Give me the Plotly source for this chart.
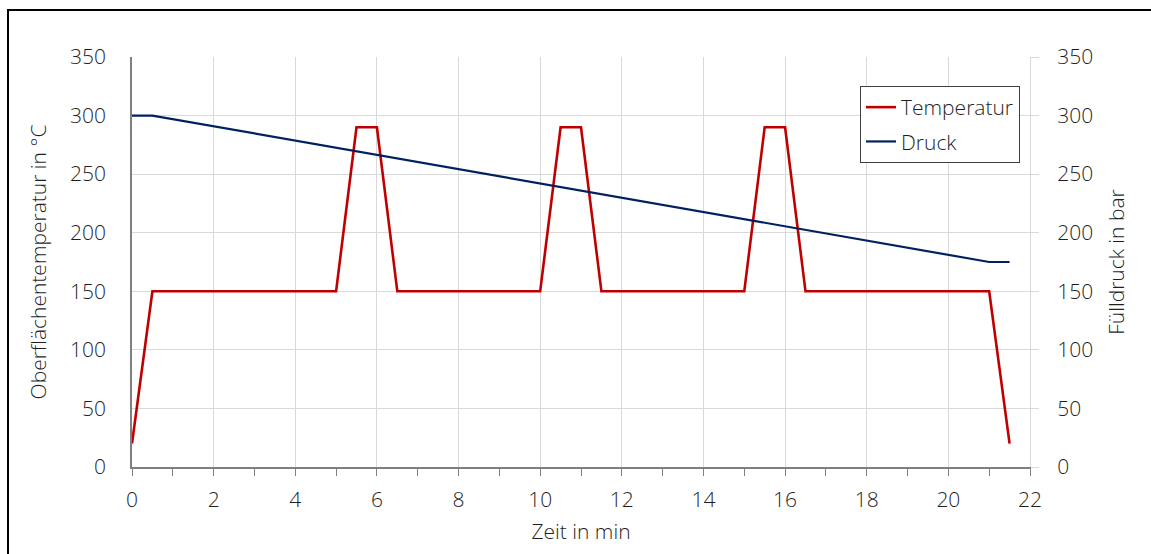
import plotly.graph_objects as go

zeit_temp = [0, 0.5, 5, 5.5, 6, 6.5, 10, 10.5, 11, 11.5, 15, 15.5, 16, 16.5, 21, 21.5]
temperatur = [20, 150, 150, 290, 290, 150, 150, 290, 290, 150, 150, 290, 290, 150, 150, 20]
zeit_druck = [0, 0.5, 21, 21.5]
druck = [300, 300, 175, 175]

x_ticks = list(range(0, 23, 2))
y_ticks = list(range(0, 351, 50))

FONT = "Open Sans"
TXT = "#1F1F1F"
FS = 21

fig = go.Figure()
fig.add_trace(go.Scatter(x=zeit_temp, y=temperatur, mode="lines", name="Temperatur",
                         legendgroup="a",
                         line=dict(color="#C00000", width=2.6)))
fig.add_trace(go.Scatter(x=zeit_druck, y=druck, mode="lines", name="Druck", yaxis="y2",
                         legendgroup="b",
                         line=dict(color="#002060", width=2.2)))

L, R, T, B = 132, 1030, 57, 467
W, H = 1151, 554
pw, ph = R - L, B - T

def px(x):
    return (x - L) / pw

def py(y):
    return (B - y) / ph

fig.update_layout(
    width=W, height=H,
    margin=dict(l=L, r=W - R, t=T, b=H - B),
    paper_bgcolor="white", plot_bgcolor="white",
    font=dict(family=FONT, size=FS, color=TXT, weight=300),
    showlegend=True,
    legend=dict(x=px(860), y=py(86), xanchor="left", yanchor="top",
                bgcolor="white", bordercolor="#404040", borderwidth=1,
                font=dict(size=FS, color=TXT, weight=300), itemwidth=30, tracegroupgap=4),
    xaxis=dict(range=[0, 22], tickvals=x_ticks, showgrid=True, gridcolor="#D9D9D9", gridwidth=1,
               showline=True, linecolor="#7F7F7F", linewidth=1.5,
               ticks="outside", ticklen=7, tickcolor="#7F7F7F",
               minor=dict(dtick=1, ticks="outside", ticklen=7, tickcolor="#7F7F7F", showgrid=False),
               zeroline=False, ticklabelstandoff=6,
               title=dict(text="Zeit in min", standoff=12, font=dict(size=FS, weight=300)),
               tickfont=dict(size=FS, weight=300)),
    yaxis=dict(range=[0, 350], tickvals=y_ticks, showgrid=True, gridcolor="#D9D9D9", gridwidth=1,
               showline=True, linecolor="#7F7F7F", linewidth=1.5, ticks="", zeroline=False,
               ticklabelstandoff=20,
               title=dict(text="Oberflächentemperatur in °C", standoff=18, font=dict(size=FS, weight=300)),
               tickfont=dict(size=FS, weight=300)),
    yaxis2=dict(range=[0, 350], tickvals=y_ticks, overlaying="y", side="right",
                showgrid=False, showline=True, linecolor="#D9D9D9", linewidth=1,
                ticks="outside", ticklen=8, tickcolor="#D9D9D9", zeroline=False,
                ticklabelstandoff=14,
                title=dict(text="Fülldruck in bar", standoff=17, font=dict(size=FS, weight=300)),
                tickfont=dict(size=FS, weight=300)),
    shapes=[dict(type="rect", xref="paper", yref="paper",
                 x0=px(8), x1=px(1160), y0=py(10), y1=py(570),
                 line=dict(color="#000000", width=2), fillcolor="rgba(0,0,0,0)", layer="below")],
)

fig.write_html("out.html")
